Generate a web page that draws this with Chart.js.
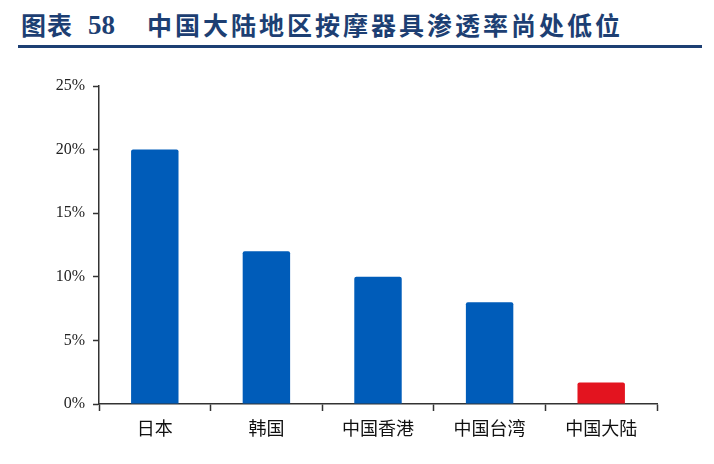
<!DOCTYPE html>
<html>
<head>
<meta charset="utf-8">
<script src="https://cdn.jsdelivr.net/npm/chart.js@4.4.1/dist/chart.umd.min.js"></script>
<style>
  html, body { margin: 0; padding: 0; background: #fff; }
  #page { position: relative; width: 714px; height: 464px; overflow: hidden; }
  .t { position: absolute; top: 6px; color: #1d3f73; white-space: nowrap;
       font-family: "Noto Sans CJK SC", sans-serif; font-weight: 700; font-size: 25px; }
  #t1 { left: 21px; letter-spacing: 1px; }
  #t2 { left: 88px; top: 10px; font-family: "Liberation Serif", serif; font-size: 27px; }
  #t3 { left: 147px; letter-spacing: 3px; }
  #rule { position: absolute; left: 18px; top: 45px; width: 684px; height: 3px; background: #1d3f73; }
  #wrap { position: absolute; left: 0; top: 0; width: 714px; height: 464px; }
</style>
</head>
<body>
<div id="page">
  <div class="t" id="t1">图表</div>
  <div class="t" id="t2">58</div>
  <div class="t" id="t3">中国大陆地区按摩器具渗透率尚处低位</div>
  <div id="rule"></div>
  <div id="wrap"><canvas id="penChart"></canvas></div>
</div>
<script>
// chart data
const regions = ['日本', '韩国', '中国香港', '中国台湾', '中国大陆'];
const penetration = [20, 12, 10, 8, 1.7];
const barColors = ['#005cb9', '#005cb9', '#005cb9', '#005cb9', '#e3141f'];
const yTicks = [0, 5, 10, 15, 20, 25];

window.onload = function() {
    const ctx = document.getElementById('penChart').getContext('2d');
    new Chart(ctx, {
        type: 'bar',
        data: {
            labels: regions,
            datasets: [{
                data: penetration,
                backgroundColor: barColors,
                borderRadius: 2,
                borderSkipped: 'bottom',
                categoryPercentage: 0.85,
                barPercentage: 0.5
            }]
        },
        options: {
            responsive: true,
            maintainAspectRatio: false,
            animation: false,
            layout: { padding: { top: 86, right: 57, bottom: 0, left: 0 } },
            plugins: {
                legend: { display: false },
                tooltip: { enabled: false }
            },
            scales: {
                x: {
                    offset: true,
                    grid: { offset: true, drawOnChartArea: false, tickLength: 7, color: '#333', tickWidth: 1.5 },
                    border: { color: '#333', width: 1.5 },
                    ticks: {
                        color: '#111', padding: 6,
                        font: { family: '"Noto Sans CJK SC", sans-serif', size: 18 }
                    },
                    afterFit: function(scale) { scale.height = 60; }
                },
                y: {
                    min: 0, max: 25,
                    afterBuildTicks: function(scale) {
                        scale.ticks = yTicks.map(v => ({ value: v }));
                    },
                    grid: { drawOnChartArea: false, tickLength: 6, color: '#333', tickWidth: 1.5 },
                    border: { color: '#333', width: 1.5 },
                    ticks: {
                        color: '#222', padding: 8,
                        font: { family: '"Liberation Serif", serif', size: 16 },
                        callback: v => v + '%'
                    },
                    afterFit: function(scale) { scale.width = 99; }
                }
            }
        }
    });
};
</script>
</body>
</html>
